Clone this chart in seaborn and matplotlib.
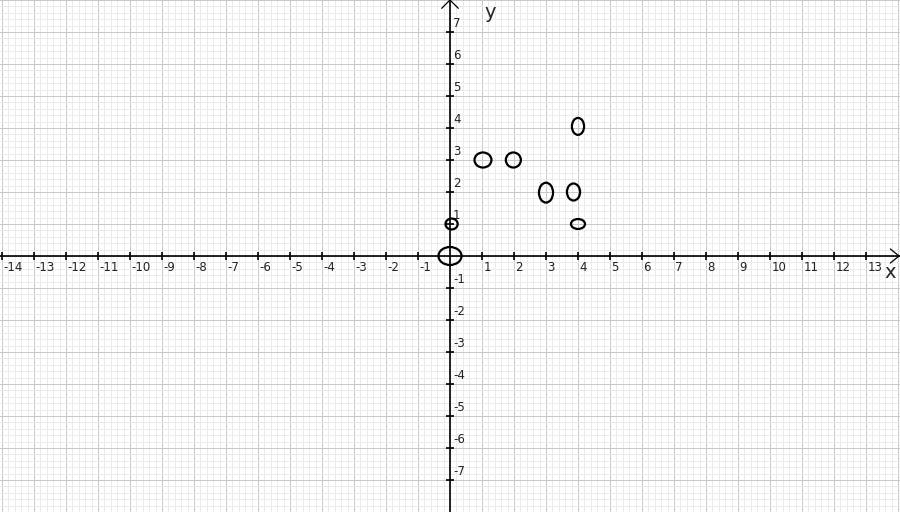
import numpy as np
import pandas as pd
import matplotlib
matplotlib.use("Agg")
import matplotlib.pyplot as plt
from matplotlib.patches import Ellipse
import seaborn as sns

# ellipse centres and sizes (in axis units)
x_vals = [0.0, 0.05, 1.03, 1.98, 3.0, 3.86, 4.0, 4.0]
y_vals = [0.0, 1.0, 3.0, 3.0, 1.98, 2.0, 1.0, 4.05]
widths = [0.72, 0.38, 0.53, 0.47, 0.44, 0.41, 0.44, 0.38]
heights = [0.56, 0.34, 0.47, 0.47, 0.62, 0.53, 0.31, 0.53]

x_ticks = [t for t in range(-14, 14) if t != 0]
y_ticks = [t for t in range(-7, 8) if t != 0]

df = pd.DataFrame({"x": x_vals, "y": y_vals, "w": widths, "h": heights})

sns.set_theme(style="white")
plt.rcParams["font.family"] = ["DejaVu Sans"]

fig = plt.figure(figsize=(9, 5.12), dpi=100)
ax = fig.add_axes([0, 0, 1, 1])
xmax = 450 / 32
ax.set_xlim(-xmax, xmax)
ax.set_ylim(-8, 8)

# grid paper
ax.set_xticks(np.arange(-14, 15, 1))
ax.set_yticks(np.arange(-8, 9, 1))
ax.set_xticks(np.arange(-14, 14.01, 0.2), minor=True)
ax.set_yticks(np.arange(-8, 8.01, 0.2), minor=True)
ax.grid(which="minor", color="#ebebeb", linewidth=0.72, antialiased=False)
ax.grid(which="major", color="#c8c8c8", linewidth=0.72, antialiased=False)
ax.tick_params(which="both", length=0, labelbottom=False, labelleft=False)
for s in ax.spines.values():
    s.set_visible(False)
ax.set_axisbelow(True)

# axes through the origin
ax.axhline(0, color="black", linewidth=1.2, zorder=3)
ax.axvline(0, color="black", linewidth=1.2, zorder=3)
ax.plot(x_ticks, [0] * len(x_ticks), linestyle="none", marker="|",
        markersize=6, markeredgewidth=1.2, color="black", zorder=3)
ax.plot([0] * len(y_ticks), y_ticks, linestyle="none", marker="_",
        markersize=6, markeredgewidth=1.2, color="black", zorder=3)

# arrow heads
tip = 449 / 32
ax.plot([tip - 0.27, tip, tip - 0.27], [0.22, 0, -0.22], color="black", lw=0.9, zorder=3)
ax.plot([-0.26, 0, 0.26], [8 - 0.26, 8, 8 - 0.26], color="black", lw=0.9, zorder=3)

# tick labels
for t in x_ticks:
    ax.text(t + 0.04, -0.16, str(t), ha="left", va="top", fontsize=8.5, color="#222222")
for t in y_ticks:
    ax.text(0.09, t + 0.07, str(t), ha="left", va="bottom", fontsize=8.5, color="#222222")

ax.text(13.77, -0.5, "x", ha="center", va="center", fontsize=14)
ax.text(1.25, 7.62, "y", ha="center", va="center", fontsize=14)

# the ellipses
for _, r in df.iterrows():
    ax.add_patch(Ellipse((r["x"], r["y"]), r["w"], r["h"], fill=False,
                         edgecolor="black", linewidth=1.6, zorder=4))

fig.savefig("out.png", dpi=100)
